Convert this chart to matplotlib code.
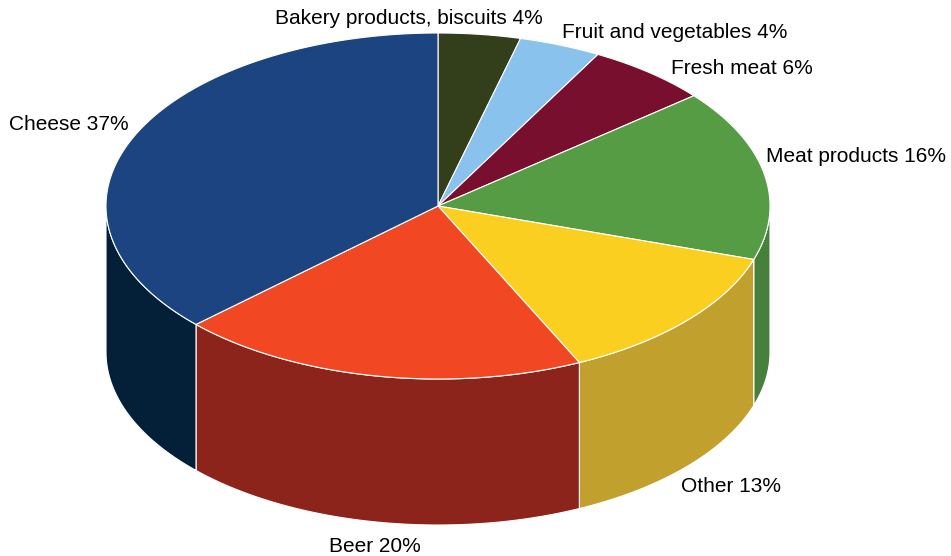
import matplotlib
matplotlib.use('Agg')
import matplotlib.pyplot as plt
import numpy as np

# ################### Data ############################
labels = ['Bakery products, biscuits', 'Fruit and vegetables', 'Fresh meat',
          'Meat products', 'Other', 'Beer', 'Cheese']
shares = [4, 4, 6, 16, 13, 20, 37]
top_colors = ['#333f1a', '#89c2ec', '#780f2e', '#559c45', '#fbcf1f', '#f14723', '#1c4481']
side_colors = ['#2a3415', '#6f9dbf', '#600c25', '#47803c', '#c1a02e', '#8c241b', '#041f38']
label_pos = [(408.5, 19), (674.5, 33), (742, 68), (855.5, 156), (731, 486), (375, 547), (69, 125)]

plt.rcParams['font.family'] = ['Liberation Sans', 'DejaVu Sans']

# ################### Pie geometry ######################
cx, cy = 438, 206
rx, ry = 332, 173
depth = 146

fig = plt.figure(figsize=(9.51, 5.56), dpi=100)
ax = fig.add_axes([0, 0, 1, 1])
ax.set_xlim(0, 951)
ax.set_ylim(556, 0)
ax.axis('off')

cum = np.cumsum([0] + shares) / sum(shares) * 2 * np.pi


def rim(a0, a1):
    # clockwise from the top of the ellipse
    t = np.linspace(a0, a1, 200)
    return cx + rx * np.sin(t), cy - ry * np.cos(t)


# side walls, only the part facing the viewer
for i in range(len(shares)):
    a0 = max(cum[i], np.pi / 2)
    a1 = min(cum[i + 1], 3 * np.pi / 2)
    if a1 <= a0:
        continue
    x, y = rim(a0, a1)
    xs = np.concatenate([x, x[::-1]])
    ys = np.concatenate([y, y[::-1] + depth])
    ax.fill(xs, ys, fc=side_colors[i], ec='white', lw=0.8, joinstyle='round')

# top face
for i in range(len(shares)):
    x, y = rim(cum[i], cum[i + 1])
    xs = np.concatenate([[cx], x])
    ys = np.concatenate([[cy], y])
    ax.fill(xs, ys, fc=top_colors[i], ec='white', lw=0.8, joinstyle='round')

for name, share, pos in zip(labels, shares, label_pos):
    ax.text(pos[0], pos[1], '%s %d%%' % (name, share), ha='center', va='center',
            fontsize=15.05, color='black')

fig.savefig('out.png', dpi=100)
